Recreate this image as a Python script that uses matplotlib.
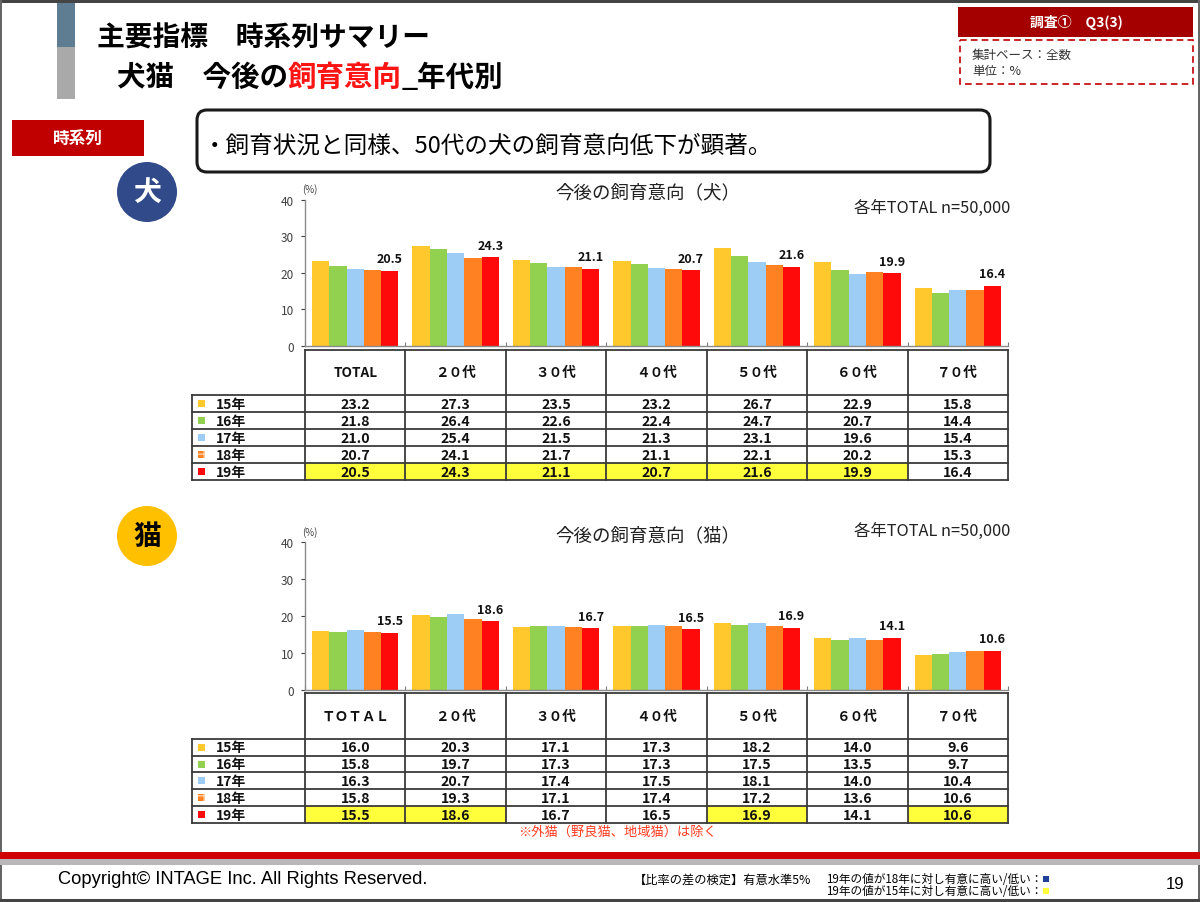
import matplotlib
matplotlib.use("Agg")
import matplotlib.pyplot as plt
from matplotlib.patches import Rectangle, FancyBboxPatch, Circle
import numpy as np

plt.rcParams['font.family'] = ['Noto Sans CJK JP', 'DejaVu Sans']

W, H = 1200, 903

# ---- data ----
ages = ["TOTAL", "２０代", "３０代", "４０代", "５０代", "６０代", "７０代"]
ages_cat = ["ＴＯＴＡＬ", "２０代", "３０代", "４０代", "５０代", "６０代", "７０代"]
years = ["15年", "16年", "17年", "18年", "19年"]
year_colors = ["#FFC82C", "#92D050", "#9DCDF5", "#FF8122", "#FF0A0A"]

dog = [
    [23.2, 27.3, 23.5, 23.2, 26.7, 22.9, 15.8],
    [21.8, 26.4, 22.6, 22.4, 24.7, 20.7, 14.4],
    [21.0, 25.4, 21.5, 21.3, 23.1, 19.6, 15.4],
    [20.7, 24.1, 21.7, 21.1, 22.1, 20.2, 15.3],
    [20.5, 24.3, 21.1, 20.7, 21.6, 19.9, 16.4],
]
cat = [
    [16.0, 20.3, 17.1, 17.3, 18.2, 14.0, 9.6],
    [15.8, 19.7, 17.3, 17.3, 17.5, 13.5, 9.7],
    [16.3, 20.7, 17.4, 17.5, 18.1, 14.0, 10.4],
    [15.8, 19.3, 17.1, 17.4, 17.2, 13.6, 10.6],
    [15.5, 18.6, 16.7, 16.5, 16.9, 14.1, 10.6],
]
# 19年 vs 15年 significant (yellow cells)
dog_sig = [1, 1, 1, 1, 1, 1, 0]
cat_sig = [1, 1, 0, 0, 1, 0, 1]

fig = plt.figure(figsize=(W / 100, H / 100), dpi=100)
bg = fig.add_axes([0, 0, 1, 1])
bg.set_xlim(0, W)
bg.set_ylim(H, 0)
bg.axis('off')
renderer = fig.canvas.get_renderer()


def px_axes(x0, y0, x1, y1):
    return fig.add_axes([x0 / W, 1 - y1 / H, (x1 - x0) / W, (y1 - y0) / H])


def put_text_run(x, y, parts, **kw):
    # draw consecutive text pieces with different colours
    for s, c in parts:
        t = bg.text(x, y, s, color=c, ha='left', va='center', **kw)
        x += t.get_window_extent(renderer).width
    return x


# ---- slide frame ----
bg.add_patch(Rectangle((0, 0), W, 4, color="#444444", lw=0))
bg.add_patch(Rectangle((0, 0), 2, H, color="#666666", lw=0))
bg.add_patch(Rectangle((W - 2, 0), 2, H, color="#666666", lw=0))
bg.add_patch(Rectangle((0, H - 3), W, 3, color="#444444", lw=0))
bg.add_patch(Rectangle((57, 4), 18, 44, color="#5E7D93", lw=0))
bg.add_patch(Rectangle((57, 48), 18, 52, color="#A9A9A9", lw=0))

# ---- titles ----
bg.text(97, 38, "主要指標　時系列サマリー", fontsize=20, fontweight='bold',
        va='center', ha='left', color='black')
put_text_run(117, 78, [("犬猫　今後の", "black"), ("飼育意向", "#FF1414"),
                       ("_年代別", "black")], fontsize=20.5, fontweight='bold')

# top right box
bg.add_patch(Rectangle((958, 8), 235, 30, color="#A50000", lw=0))
bg.text(1076, 23, "調査①　Q3(3)", color='white', fontsize=10, fontweight='bold',
        ha='center', va='center')
bg.add_patch(Rectangle((960, 41), 233, 44, fill=False, ec="#C00000", lw=1.2,
                       ls=(0, (4, 2.5))))
bg.text(972, 55, "集計ベース：全数", fontsize=9, color='#333333', va='center')
bg.text(972, 72, "単位：%", fontsize=9, color='#333333', va='center')

# section label
bg.add_patch(Rectangle((12, 121), 132, 36, color="#C00000", lw=0))
bg.text(78, 139, "時系列", color='white', fontsize=12, fontweight='bold',
        ha='center', va='center')

# comment box
bg.add_patch(FancyBboxPatch((197, 111), 793, 62,
                            boxstyle="round,pad=0,rounding_size=10",
                            fc='white', ec='#1a1a1a', lw=2.2))
bg.text(203, 146, "・飼育状況と同様、50代の犬の飼育意向低下が顕著。", fontsize=17,
        va='center', ha='left', color='black')

# circle icons
bg.add_patch(Circle((147, 193), 30, color="#304A8A", lw=0))
bg.text(147, 193, "犬", color='white', fontsize=20, fontweight='bold',
        ha='center', va='center')
bg.add_patch(Circle((147, 537), 30, color="#FFC000", lw=0))
bg.text(147, 537, "猫", color='black', fontsize=20, fontweight='bold',
        ha='center', va='center')

AX_L, AX_R = 305, 1008
col_w = (AX_R - AX_L) / len(ages)
bar_w = 0.172


def draw_chart(y_top, y_zero, values, title, title_y, n_y):
    ax = px_axes(AX_L, y_top, AX_R, y_zero)
    ax.set_facecolor('none')
    x = np.arange(len(ages))
    for i, row in enumerate(values):
        ax.bar(x + (i - 2) * bar_w, row, bar_w, color=year_colors[i], lw=0)
    for xi, v in zip(x, values[-1]):
        ax.annotate(f"{v:.1f}", (xi + 2 * bar_w, v), xytext=(0, 4),
                    textcoords='offset points', ha='center', va='bottom',
                    fontsize=9, fontweight='bold', color='#111111')
    ax.set_xlim(-0.5, len(ages) - 0.5)
    ax.set_ylim(0, 40)
    ax.set_yticks([0, 10, 20, 30, 40])
    ax.set_xticks(np.arange(len(ages) + 1) - 0.5)
    ax.set_xticklabels([])
    ax.tick_params(axis='y', length=3, pad=5, labelsize=8.5, colors='#404040')
    ax.tick_params(axis='x', length=3, direction='in', colors='#7f7f7f')
    for s in ['top', 'right']:
        ax.spines[s].set_visible(False)
    for s in ['left', 'bottom']:
        ax.spines[s].set_color('#8a8a8a')
        ax.spines[s].set_linewidth(1.0)
    bg.text(310, y_top - 11, "(%)", fontsize=7, ha='center', va='center',
            color='#404040')
    bg.text(648, title_y, title, fontsize=13.3, ha='center', va='center',
            color='#222222')
    bg.text(1010, n_y, "各年TOTAL n=50,000", fontsize=11.8, ha='right',
            va='center', color='#222222')
    return ax


def draw_table(top, head_bot, row_h, values, sig, headers):
    lc, lw = '#3a3a3a', 1.3
    edges = [AX_L + k * col_w for k in range(len(headers) + 1)]
    bottom = head_bot + row_h * len(years)
    # yellow cells in last row
    for k, s in enumerate(sig):
        if s:
            bg.add_patch(Rectangle((edges[k], head_bot + row_h * 4), col_w,
                                   row_h, color="#FFFF3C", lw=0))
    bg.plot([AX_L, AX_R], [top, top], color=lc, lw=lw)
    for k, e in enumerate(edges):
        bg.plot([e, e], [top, bottom], color=lc, lw=lw)
    bg.plot([192, 192], [head_bot, bottom], color=lc, lw=lw)
    for r in range(len(years) + 1):
        yy = head_bot + r * row_h
        bg.plot([192, AX_R], [yy, yy], color=lc, lw=lw)
    for k, h in enumerate(headers):
        bg.text((edges[k] + edges[k + 1]) / 2, (top + head_bot) / 2, h,
                fontsize=9.8, fontweight='bold', ha='center', va='center',
                color='#111111')
    for r, (yr, row) in enumerate(zip(years, values)):
        yc = head_bot + (r + 0.5) * row_h
        sq = Rectangle((198, yc - 3.5), 7, 7, fc=year_colors[r], lw=0)
        if r == 3:
            sq.set_hatch('++')
            sq.set_edgecolor('#FFD2A8')
        bg.add_patch(sq)
        bg.text(216, yc + 0.5, yr, fontsize=10, fontweight='bold',
                va='center', ha='left', color='#111111')
        for k, v in enumerate(row):
            bg.text((edges[k] + edges[k + 1]) / 2, yc + 0.5, f"{v:.1f}",
                    fontsize=10.2, fontweight='bold', ha='center', va='center',
                    color='#111111')


draw_chart(200.7, 347, dog, "今後の飼育意向（犬）", 193, 208)
draw_table(351, 396, 17, dog, dog_sig, ages)
draw_chart(543.3, 691, cat, "今後の飼育意向（猫）", 536, 531)
draw_table(694, 739.5, 17, cat, cat_sig, ages_cat)

bg.text(618, 832, "※外猫（野良猫、地域猫）は除く", fontsize=9.5, color='#FF3B1F',
        ha='center', va='center')

# ---- footer ----
bg.add_patch(Rectangle((0, 853), W, 7, color="#D00000", lw=0))
bg.add_patch(Rectangle((0, 860), W, 6, color="#B8B8B8", lw=0))
bg.text(58, 880, "Copyright© INTAGE Inc. All Rights Reserved.", fontsize=13.2,
        family=['Liberation Sans', 'DejaVu Sans'], va='center', ha='left')
bg.text(634, 880, "【比率の差の検定】有意水準5%", fontsize=8.8, va='center',
        ha='left')
x_end = put_text_run(826, 880, [("19年の値が18年に対し有意に高い/低い：", "black")],
                     fontsize=8.4)
put_text_run(826, 892, [("19年の値が15年に対し有意に高い/低い：", "black")],
             fontsize=8.4)
bg.add_patch(Rectangle((x_end + 1, 877), 6, 6, color="#1F3F99", lw=0))
bg.add_patch(Rectangle((x_end + 1, 889), 6, 6, color="#FFFF3C", lw=0))
bg.text(1175, 885, "19", fontsize=12, family=['Liberation Sans', 'DejaVu Sans'],
        va='center', ha='center')

fig.savefig("out.png", dpi=100)
